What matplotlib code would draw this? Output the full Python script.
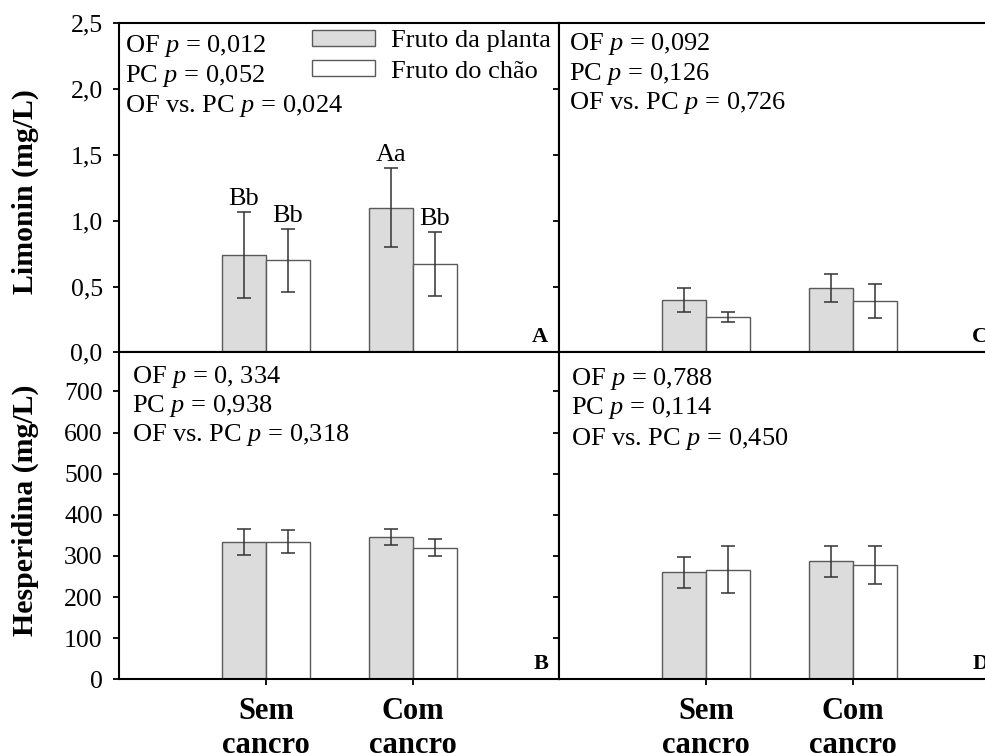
import numpy as np
import matplotlib
matplotlib.use('Agg')
import matplotlib.pyplot as plt
from matplotlib.patches import Patch

# fontes (Times-like)
plt.rcParams['font.family'] = ['Liberation Serif', 'DejaVu Serif']
plt.rcParams['mathtext.fontset'] = 'custom'
plt.rcParams['mathtext.rm'] = 'Liberation Serif'
plt.rcParams['mathtext.it'] = 'Liberation Serif:italic'
plt.rcParams['mathtext.bf'] = 'Liberation Serif:bold'

# dados
grupos = ['Sem\ncancro', 'Com\ncancro']
series = ['Fruto da planta', 'Fruto do chão']

# A - Limonin, coluna esquerda
lim_a_planta = [0.74, 1.10]
lim_a_planta_err = [0.325, 0.30]
lim_a_chao = [0.70, 0.67]
lim_a_chao_err = [0.24, 0.245]
lim_a_letras_planta = ['Bb', 'Aa']
lim_a_letras_chao = ['Bb', 'Bb']

# C - Limonin, coluna direita
lim_c_planta = [0.40, 0.49]
lim_c_planta_err = [0.09, 0.105]
lim_c_chao = [0.27, 0.39]
lim_c_chao_err = [0.04, 0.13]

# B - Hesperidina, coluna esquerda
hes_b_planta = [333, 346]
hes_b_planta_err = [32, 19]
hes_b_chao = [335, 320]
hes_b_chao_err = [29, 20]

# D - Hesperidina, coluna direita
hes_d_planta = [260, 287]
hes_d_planta_err = [37, 38]
hes_d_chao = [266, 277]
hes_d_chao_err = [57, 46]

lim_ticks = [0, 0.5, 1.0, 1.5, 2.0, 2.5]
lim_ticklabels = ['0,0', '0,5', '1,0', '1,5', '2,0', '2,5']
hes_ticks = [0, 100, 200, 300, 400, 500, 600, 700]
hes_ticklabels = ['0', '100', '200', '300', '400', '500', '600', '700']

p_a = ['OF $p$ = 0,012', 'PC $p$ = 0,052', 'OF vs. PC $p$ = 0,024']
p_b = ['OF $p$ = 0, 334', 'PC $p$ = 0,938', 'OF vs. PC $p$ = 0,318']
p_c = ['OF $p$ = 0,092', 'PC $p$ = 0,126', 'OF vs. PC $p$ = 0,726']
p_d = ['OF $p$ = 0,788', 'PC $p$ = 0,114', 'OF vs. PC $p$ = 0,450']

cor_planta = '#dcdcdc'
cor_chao = 'white'
cor_borda = '#5a5a5a'
w = 0.3
xpos = np.arange(1, len(grupos) + 1)

fig = plt.figure(figsize=(9.85, 7.53), dpi=100)
W, H = 985, 753


def eixo(x0, y0, x1, y1):
    # coordenadas em pixels (origem no topo)
    return fig.add_axes([x0 / W, 1 - y1 / H, (x1 - x0) / W, (y1 - y0) / H])


axA = eixo(119.3, 23.3, 559.3, 352.3)
axC = eixo(559.3, 23.3, 999.3, 352.3)
axB = eixo(119.3, 352.3, 559.3, 679.3)
axD = eixo(559.3, 352.3, 999.3, 679.3)


def barras(ax, planta, planta_err, chao, chao_err):
    ax.bar(xpos - w / 2, planta, w, color=cor_planta, edgecolor=cor_borda, linewidth=1.0, zorder=2)
    ax.bar(xpos + w / 2, chao, w, color=cor_chao, edgecolor=cor_borda, linewidth=1.0, zorder=2)
    for dx, v, e in [(-w / 2, planta, planta_err), (w / 2, chao, chao_err)]:
        ax.errorbar(xpos + dx, v, yerr=e, fmt='none', ecolor='#333333',
                    elinewidth=1.1, capsize=5, capthick=1.1, zorder=3)


def estilo(ax, ylim, ticks, labels, mostra_y, mostra_x):
    ax.set_xlim(0, 3)
    ax.set_ylim(*ylim)
    ax.set_yticks(ticks)
    ax.set_xticks(xpos)
    for s in ax.spines.values():
        s.set_linewidth(1.5)
    ax.tick_params(direction='out', length=4, width=1.3, labelsize=18.5, pad=8)
    if mostra_y:
        ax.set_yticklabels(labels)
    else:
        ax.set_yticklabels([])
    if mostra_x:
        ax.set_xticklabels(grupos, fontsize=22, fontweight='bold', linespacing=1.2)
        ax.tick_params(axis='x', pad=9)
    else:
        ax.set_xticklabels([])


def textos_p(ax, linhas, x, ys):
    for t, y in zip(linhas, ys):
        ax.text(x, y, t, transform=ax.transAxes, fontsize=19, va='baseline', ha='left')


# painéis
barras(axA, lim_a_planta, lim_a_planta_err, lim_a_chao, lim_a_chao_err)
barras(axC, lim_c_planta, lim_c_planta_err, lim_c_chao, lim_c_chao_err)
barras(axB, hes_b_planta, hes_b_planta_err, hes_b_chao, hes_b_chao_err)
barras(axD, hes_d_planta, hes_d_planta_err, hes_d_chao, hes_d_chao_err)

estilo(axA, (0, 2.5), lim_ticks, lim_ticklabels, True, False)
estilo(axC, (0, 2.5), lim_ticks, lim_ticklabels, False, False)
estilo(axB, (0, 795), hes_ticks, hes_ticklabels, True, True)
estilo(axD, (0, 795), hes_ticks, hes_ticklabels, False, True)

# letras de significância
for i in range(len(grupos)):
    axA.annotate(lim_a_letras_planta[i], (xpos[i] - w / 2, lim_a_planta[i] + lim_a_planta_err[i]),
                 xytext=(0, 5), textcoords='offset points', ha='center', va='baseline', fontsize=19)
    axA.annotate(lim_a_letras_chao[i], (xpos[i] + w / 2, lim_a_chao[i] + lim_a_chao_err[i]),
                 xytext=(0, 5), textcoords='offset points', ha='center', va='baseline', fontsize=19)

textos_p(axA, p_a, 0.013, [0.9137, 0.8225, 0.7313])
textos_p(axC, p_c, 0.023, [0.919, 0.829, 0.738])
textos_p(axB, p_b, 0.028, [0.905, 0.8165, 0.7278])
textos_p(axD, p_d, 0.026, [0.900, 0.811, 0.716])

# letras dos painéis
for ax, letra in [(axA, 'A'), (axB, 'B'), (axC, 'C'), (axD, 'D')]:
    ax.text(0.975, 0.03, letra, transform=ax.transAxes, fontsize=16,
            fontweight='bold', ha='right', va='baseline')

# legenda
handles = [Patch(facecolor=cor_planta, edgecolor=cor_borda, linewidth=1.0),
           Patch(facecolor=cor_chao, edgecolor=cor_borda, linewidth=1.0)]
axA.legend(handles, series, loc='upper left', bbox_to_anchor=(0.432, 0.988), frameon=False,
           fontsize=19, handlelength=2.4, handleheight=0.56, handletextpad=0.6,
           labelspacing=0.3, borderpad=0.1, borderaxespad=0)

axA.set_ylabel('Limonin (mg/L)', fontsize=21.5, fontweight='bold')
axA.yaxis.set_label_coords(-0.183, 0.488)
axB.set_ylabel('Hesperidina (mg/L)', fontsize=21.5, fontweight='bold')
axB.yaxis.set_label_coords(-0.183, 0.518)

plt.savefig('out.png', dpi=100)
